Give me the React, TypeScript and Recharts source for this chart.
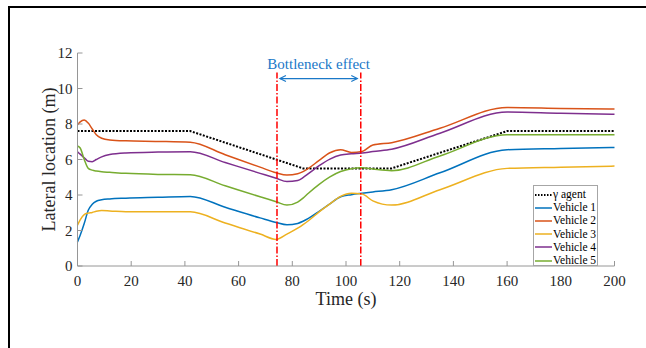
import { LineChart, Line, XAxis, YAxis, ReferenceLine, Legend } from "recharts";

// sample times (s)
const time = [0, 1, 2.5, 4, 5.5, 7, 9, 12, 18, 30, 42, 55, 68, 74, 78, 82, 84, 86, 90, 94, 98, 102, 106, 110, 117, 135, 160, 180, 200];

// lateral location (m)
const gammaAgent = [7.6, 7.6, 7.6, 7.6, 7.6, 7.6, 7.6, 7.6, 7.6, 7.6, 7.6, 6.95, 6.3, 6.0, 5.8, 5.6, 5.5, 5.5, 5.5, 5.5, 5.5, 5.5, 5.5, 5.5, 5.5, 6.38, 7.6, 7.6, 7.6];
const vehicle1 = [1.36, 1.73, 2.39, 3.14, 3.48, 3.65, 3.73, 3.78, 3.82, 3.87, 3.92, 3.31, 2.71, 2.45, 2.32, 2.4, 2.52, 2.68, 3.08, 3.5, 3.9, 4.02, 4.1, 4.17, 4.3, 5.25, 6.55, 6.62, 6.68];
const vehicle2 = [7.95, 8.12, 8.22, 8.05, 7.72, 7.4, 7.2, 7.1, 7.05, 7.02, 6.97, 6.27, 5.57, 5.25, 5.12, 5.2, 5.32, 5.5, 5.95, 6.38, 6.55, 6.4, 6.45, 6.82, 6.95, 7.76, 8.93, 8.88, 8.84];
const vehicle3 = [2.3, 2.6, 2.9, 2.98, 3.02, 3.08, 3.12, 3.1, 3.05, 3.05, 3.05, 2.42, 1.8, 1.5, 1.8, 2.13, 2.33, 2.55, 3.05, 3.5, 3.92, 4.1, 4.05, 3.67, 3.43, 4.3, 5.5, 5.57, 5.63];
const vehicle4 = [6.44, 6.3, 6.1, 5.9, 5.88, 6.0, 6.15, 6.28, 6.37, 6.42, 6.44, 5.83, 5.22, 4.94, 4.76, 4.82, 4.98, 5.2, 5.65, 6.02, 6.25, 6.32, 6.36, 6.45, 6.58, 7.48, 8.67, 8.6, 8.55];
const vehicle5 = [6.76, 6.65, 6.0, 5.5, 5.4, 5.35, 5.31, 5.28, 5.22, 5.16, 5.14, 4.52, 3.9, 3.62, 3.43, 3.6, 3.82, 4.1, 4.6, 5.02, 5.32, 5.48, 5.53, 5.46, 5.37, 6.2, 7.4, 7.4, 7.4];

const xTicks = [0, 20, 40, 60, 80, 100, 120, 140, 160, 180, 200];
const yTicks = [0, 2, 4, 6, 8, 10, 12];

// bottleneck window (s) and annotation
const bottleneckBounds = [74.3, 105.5];
const bottleneckTop = 10.9;
const arrowSpan = [75.4, 104.2];
const arrowLevel = 10.56;

const seriesKeys = ["gamma", "v1", "v2", "v3", "v4", "v5"];
const seriesNames = ["γ agent", "Vehicle 1", "Vehicle 2", "Vehicle 3", "Vehicle 4", "Vehicle 5"];
const seriesColors = ["#000000", "#0072BD", "#D95319", "#EDB120", "#7E2F8E", "#77AC30"];

const data = time.map((t, i) => ({
  t,
  gamma: gammaAgent[i],
  v1: vehicle1[i],
  v2: vehicle2[i],
  v3: vehicle3[i],
  v4: vehicle4[i],
  v5: vehicle5[i],
}));

const FONT = "'Liberation Serif', 'Times New Roman', serif";
const AXIS = "#969696";
const TEXT = "#262626";
const BLUE = "#1a78c8";
const X_GAP = 9;
const Y_GAP = 5;

const XTick = ({ x, y, payload }: any) => (
  <g>
    <line x1={x} y1={y - X_GAP} x2={x} y2={y - X_GAP - 5} stroke={AXIS} />
    <text x={x} y={y} dy="0.71em" textAnchor="middle" fill={TEXT} style={{ fontSize: 15, fontFamily: FONT }}>
      {payload.value}
    </text>
  </g>
);

const YTick = ({ x, y, payload }: any) => (
  <g>
    <line x1={x + Y_GAP} y1={y} x2={x + Y_GAP + 5} y2={y} stroke={AXIS} />
    <text x={x} y={y} dy="0.35em" textAnchor="end" fill={TEXT} style={{ fontSize: 15, fontFamily: FONT }}>
      {payload.value}
    </text>
  </g>
);

const ArrowShape = (props: any) => {
  const { x1, y1, x2, y2 } = props;
  return (
    <g>
      <line x1={x1} y1={y1} x2={x2} y2={y2} stroke={BLUE} strokeWidth={1.2} />
      <path d={`M${x1 + 6},${y1 - 3} L${x1},${y1} L${x1 + 6},${y1 + 3}`} fill="none" stroke={BLUE} strokeWidth={1.2} />
      <path d={`M${x2 - 6},${y2 - 3} L${x2},${y2} L${x2 - 6},${y2 + 3}`} fill="none" stroke={BLUE} strokeWidth={1.2} />
      <text x={(x1 + x2) / 2} y={y1 - 10} textAnchor="middle" fill={BLUE} style={{ fontSize: 15, fontFamily: FONT }}>
        Bottleneck effect
      </text>
    </g>
  );
};

const LegendBox = () => (
  <div
    style={{
      width: 65,
      height: 81,
      boxSizing: "border-box",
      border: "1px solid #a6a6a6",
      background: "#fff",
      paddingTop: 2,
      fontFamily: FONT,
      fontSize: 11.5,
      color: "#000",
    }}
  >
    {seriesNames.map((name, i) => (
      <div key={name} style={{ display: "flex", alignItems: "center", height: 13.2 }}>
        <svg width={17} height={4} style={{ marginLeft: 1 }}>
          <line
            x1={0}
            y1={2}
            x2={17}
            y2={2}
            stroke={seriesColors[i]}
            strokeWidth={i === 0 ? 2 : 1.5}
            strokeDasharray={i === 0 ? "1.5 1.5" : undefined}
          />
        </svg>
        <span style={{ marginLeft: 1, lineHeight: "13px", whiteSpace: "nowrap" }}>{name}</span>
      </div>
    ))}
  </div>
);

export default function App() {
  return (
    <div style={{ position: "absolute", left: 0, top: 0, width: 646, height: 348, background: "#fff" }}>
      <div
        style={{
          position: "absolute",
          left: 8,
          top: 6,
          width: 638,
          height: 342,
          boxSizing: "border-box",
          borderTop: "2px solid #000",
          borderLeft: "2px solid #000",
        }}
      />
      <div style={{ position: "absolute", left: 0, top: 0 }}>
        <LineChart width={646} height={348} data={data} margin={{ top: 53, right: 31.5, left: 20.5, bottom: 16 }}>
          <XAxis
            dataKey="t"
            type="number"
            domain={[0, 200]}
            ticks={xTicks}
            tickSize={0}
            tickMargin={X_GAP}
            tickLine={false}
            tick={<XTick />}
            axisLine={{ stroke: AXIS }}
            height={66}
            label={{ value: "Time (s)", position: "center", fill: TEXT, style: { fontSize: 18, fontFamily: FONT } }}
          />
          <YAxis
            type="number"
            domain={[0, 12]}
            ticks={yTicks}
            tickSize={0}
            tickMargin={Y_GAP}
            tickLine={false}
            tick={<YTick />}
            axisLine={{ stroke: AXIS }}
            width={57}
            label={{ value: "Lateral location (m)", angle: -90, position: "center", fill: TEXT, style: { fontSize: 18, fontFamily: FONT } }}
          />
          {seriesKeys.map((k, i) => (
            <Line
              key={k}
              dataKey={k}
              name={seriesNames[i]}
              type={i === 0 ? "linear" : "monotone"}
              stroke={seriesColors[i]}
              strokeWidth={i === 0 ? 2 : 1.5}
              strokeDasharray={i === 0 ? "2 1.5" : undefined}
              dot={false}
              activeDot={false}
              isAnimationActive={false}
            />
          ))}
          {bottleneckBounds.map((b) => (
            <ReferenceLine
              key={b}
              segment={[{ x: b, y: 0 }, { x: b, y: bottleneckTop }]}
              stroke="#ff0000"
              strokeWidth={1.5}
              strokeDasharray="7 2 1.5 2"
            />
          ))}
          <ReferenceLine
            segment={[{ x: arrowSpan[0], y: arrowLevel }, { x: arrowSpan[1], y: arrowLevel }]}
            shape={ArrowShape}
          />
          <Legend
            layout="vertical"
            align="center"
            verticalAlign="middle"
            wrapperStyle={{ left: 533, top: 185, width: 65, height: 81 }}
            content={() => <LegendBox />}
          />
        </LineChart>
      </div>
    </div>
  );
}
